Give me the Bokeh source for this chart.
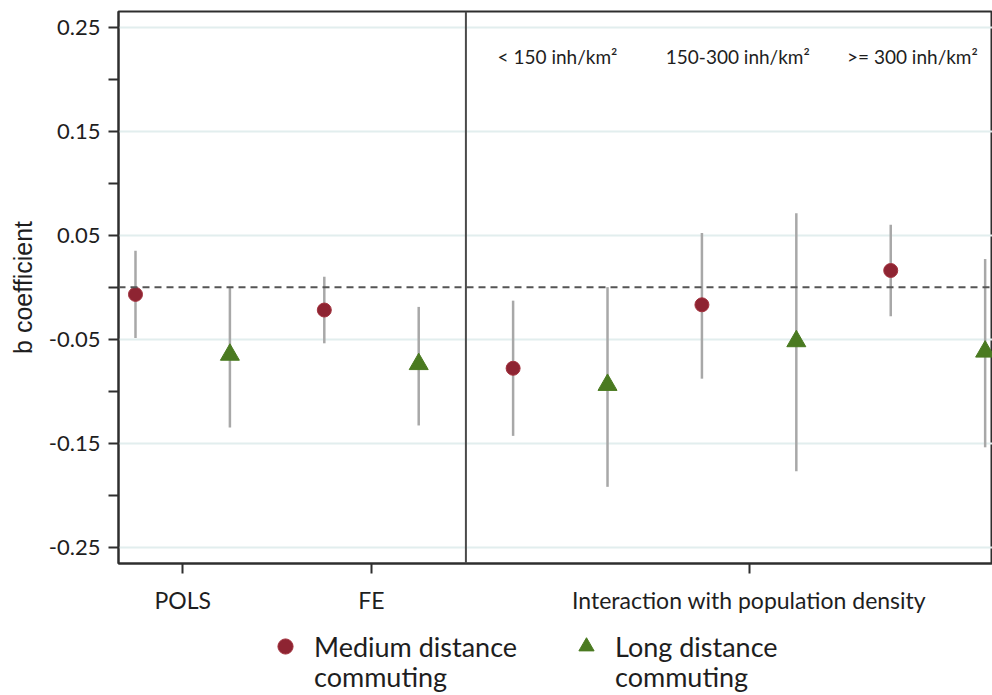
from bokeh.plotting import figure
from bokeh.layouts import column
from bokeh.models import FixedTicker, Span, Legend, LegendItem, NumeralTickFormatter
from bokeh.core.properties import value
from bokeh.embed import file_html
from bokeh.resources import INLINE

# ---- data ----
groups = ["POLS", "FE", "< 150", "150-300", ">= 300"]
medium_coef = [-0.007, -0.022, -0.078, -0.017, 0.016]
medium_lo = [-0.049, -0.054, -0.143, -0.088, -0.028]
medium_hi = [0.035, 0.010, -0.013, 0.052, 0.060]
long_coef = [-0.065, -0.074, -0.094, -0.052, -0.062]
long_lo = [-0.135, -0.133, -0.192, -0.177, -0.154]
long_hi = [0.000, -0.019, 0.000, 0.071, 0.027]
x_tick_labels = ["POLS", "FE", "Interaction with population density"]
density_labels = ["< 150 inh/km\u00b2", "150-300 inh/km\u00b2", ">= 300 inh/km\u00b2"]
series_first_line = ["Medium distance", "Long distance"]
series_second_line = ["commuting", "commuting"]
y_major = [-0.25, -0.15, -0.05, 0.05, 0.15, 0.25]
y_minor = [-0.2, -0.1, 0.0, 0.1, 0.2]

FONT = "Lato"
TXT = "#1e1e1e"
AX = "#2e2e2e"
RED = dict(fill_color="#8e2432", line_color="#a3333f", line_width=1)
GREEN = dict(fill_color="#4a7a20", line_color="#4a7a20", line_width=1)

pos_medium = [2 * i + 1 for i in range(len(groups))]
pos_long = [2 * i + 2 for i in range(len(groups))]
x_ticks = [
    (pos_medium[0] + pos_long[0]) / 2,
    (pos_medium[1] + pos_long[1]) / 2,
    (pos_medium[2] + pos_long[4]) / 2,
]
separator = (pos_long[1] + pos_medium[2]) / 2

p = figure(
    width=992, height=625,
    x_range=(0.82, 10.078), y_range=(-0.2657, 0.265),
    output_backend="svg", toolbar_location=None,
    min_border_left=118, min_border_right=0, min_border_top=11, min_border_bottom=62,
    background_fill_color="white", border_fill_color="white",
)
p.outline_line_color = AX
p.outline_line_width = 2

p.xgrid.visible = False
p.ygrid.ticker = FixedTicker(ticks=y_major)
p.ygrid.grid_line_color = "#e2eeee"
p.ygrid.grid_line_width = 2

# y axis
p.yaxis.ticker = FixedTicker(ticks=y_major, minor_ticks=y_minor)
p.yaxis.formatter = NumeralTickFormatter(format="0.00")
p.yaxis.axis_label = "b coefficient"
p.yaxis.axis_label_text_font = "Liberation Sans"
p.yaxis.axis_label_text_font_size = "25px"
p.yaxis.axis_label_text_font_style = "normal"
p.yaxis.axis_label_text_color = TXT
p.yaxis.axis_label_standoff = 9
p.yaxis.major_label_text_font = FONT
p.yaxis.major_label_text_font_size = "22px"
p.yaxis.major_label_text_color = TXT
p.yaxis.major_label_standoff = 8
p.yaxis.minor_tick_out = 10
p.yaxis.minor_tick_in = 0
p.yaxis.minor_tick_line_color = AX
p.yaxis.minor_tick_line_width = 2

# x axis
p.xaxis.ticker = FixedTicker(ticks=x_ticks)
p.xaxis.major_label_overrides = {t: l for t, l in zip(x_ticks, x_tick_labels)}
p.xaxis.major_label_text_font = FONT
p.xaxis.major_label_text_font_size = "23px"
p.xaxis.major_label_text_color = TXT
p.xaxis.major_label_standoff = 12

for ax in (p.xaxis, p.yaxis):
    ax.axis_line_color = AX
    ax.axis_line_width = 2
    ax.major_tick_line_color = AX
    ax.major_tick_line_width = 2
    ax.major_tick_out = 10
    ax.major_tick_in = 0

# reference lines
p.add_layout(Span(location=0, dimension="width", line_color="#555555",
                  line_width=2, line_dash="7 5"))
p.add_layout(Span(location=separator, dimension="height", line_color="#4a4a4a",
                  line_width=2))

# error bars
p.segment(x0=pos_medium, y0=medium_lo, x1=pos_medium, y1=medium_hi,
          line_color="#a8a8a8", line_width=2.5)
p.segment(x0=pos_long, y0=long_lo, x1=pos_long, y1=long_hi,
          line_color="#a8a8a8", line_width=2.5)

# points
p.scatter(x=pos_medium, y=medium_coef, marker="circle", size=14, **RED)
p.scatter(x=pos_long, y=long_coef, marker="triangle", size=19, **GREEN)

# density labels
p.text(x=[5.47, 7.38, 9.23], y=[0.222] * 3, text=density_labels,
       text_font=value(FONT), text_font_size="19px", text_color=TXT,
       text_align="center", text_baseline="middle")

# ---- legend strip below the chart ----
lg = figure(
    width=992, height=70, x_range=(0, 1), y_range=(0, 1),
    output_backend="svg", toolbar_location=None,
    min_border=0, background_fill_color="white", border_fill_color="white",
)
lg.axis.visible = False
lg.grid.visible = False
lg.outline_line_color = None
nan = float("nan")
lr_med = lg.scatter(x=[nan], y=[nan], marker="circle", size=14, **RED)
lr_long = lg.scatter(x=[nan], y=[nan], marker="triangle", size=19, **GREEN)
lr_blank = lg.scatter(x=[nan], y=[nan], marker="circle", size=1,
                      fill_alpha=0, line_alpha=0)

common = dict(
    orientation="horizontal", border_line_color=None, background_fill_alpha=0,
    label_text_font=FONT, label_text_font_size="27px", label_text_color=TXT,
    glyph_width=38, spacing=43, padding=0, margin=0,
    label_standoff=10, label_width=210,
)
legend_top = Legend(
    items=[LegendItem(label=series_first_line[0], renderers=[lr_med]),
           LegendItem(label=series_first_line[1], renderers=[lr_long])],
    location=(148, 30), glyph_height=38, **common,
)
legend_bottom = Legend(
    items=[LegendItem(label=series_second_line[0], renderers=[lr_blank]),
           LegendItem(label=series_second_line[1], renderers=[lr_blank])],
    location=(148, 2), glyph_height=20, **common,
)
lg.add_layout(legend_top, "center")
lg.add_layout(legend_bottom, "center")

open("out.html", "w").write(file_html(column(p, lg, spacing=0), INLINE))
